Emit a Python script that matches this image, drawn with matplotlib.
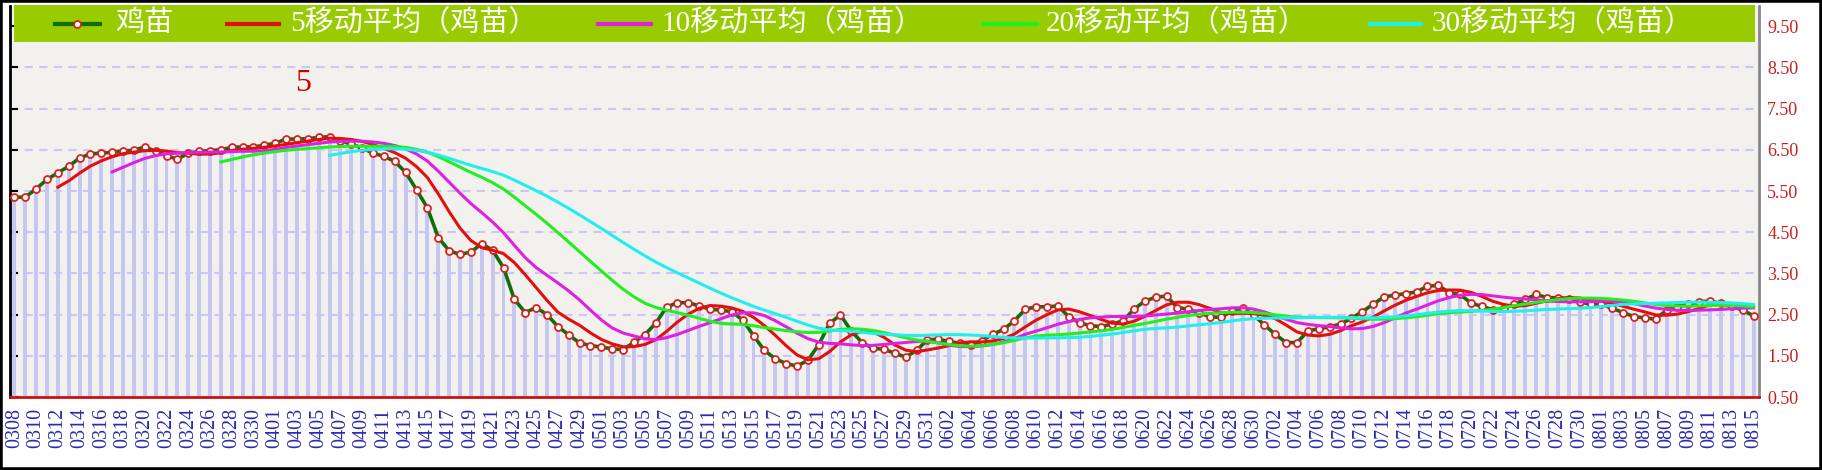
import matplotlib
matplotlib.use("Agg")
import matplotlib.pyplot as plt
from matplotlib.patches import Rectangle
from matplotlib.lines import Line2D
import numpy as np
import pandas as pd

plt.rcParams['font.family'] = ['Liberation Serif', 'Noto Sans CJK SC']

# daily dates 0308 .. 0815
dates = pd.date_range("2024-03-08", "2024-08-15", freq="D")
date_labels = [d.strftime("%m%d") for d in dates]

# 鸡苗 price
chick = [
    5.35, 5.35, 5.55, 5.78, 5.94, 6.10, 6.30, 6.40, 6.42, 6.44,
    6.47, 6.49, 6.57, 6.46, 6.36, 6.27, 6.42, 6.46, 6.48, 6.50,
    6.56, 6.57, 6.57, 6.61, 6.66, 6.76, 6.76, 6.77, 6.80, 6.82,
    6.72, 6.64, 6.54, 6.42, 6.34, 6.22, 5.95, 5.53, 5.09, 4.37,
    4.05, 3.96, 4.02, 4.22, 4.06, 3.64, 2.87, 2.55, 2.67, 2.50,
    2.21, 2.01, 1.81, 1.75, 1.71, 1.67, 1.65, 1.83, 2.01, 2.29,
    2.68, 2.79, 2.79, 2.71, 2.63, 2.61, 2.57, 2.37, 1.99, 1.63,
    1.43, 1.31, 1.25, 1.39, 1.77, 2.29, 2.49, 2.10, 1.82, 1.68,
    1.66, 1.56, 1.47, 1.63, 1.89, 1.90, 1.85, 1.80, 1.76, 1.87,
    2.02, 2.14, 2.35, 2.63, 2.69, 2.69, 2.71, 2.45, 2.30, 2.23,
    2.21, 2.27, 2.35, 2.63, 2.83, 2.92, 2.95, 2.67, 2.63, 2.54,
    2.45, 2.43, 2.59, 2.65, 2.49, 2.25, 2.02, 1.82, 1.82, 2.10,
    2.16, 2.20, 2.27, 2.41, 2.57, 2.75, 2.93, 2.97, 3.01, 3.05,
    3.19, 3.21, 3.03, 2.99, 2.78, 2.70, 2.62, 2.65, 2.75, 2.87,
    2.99, 2.91, 2.91, 2.89, 2.81, 2.75, 2.75, 2.65, 2.55, 2.45,
    2.42, 2.39, 2.61, 2.69, 2.75, 2.81, 2.83, 2.77, 2.70, 2.61,
    2.47,
]

ma_windows = [5, 10, 20, 30]
ma_colors = ["#e01010", "#e020e0", "#22ee22", "#22eeee"]
series_name = "鸡苗"
y_ticks = [0.5, 1.5, 2.5, 3.5, 4.5, 5.5, 6.5, 7.5, 8.5, 9.5]

W, H = 1822, 470
fig = plt.figure(figsize=(W / 100, H / 100), dpi=100)
fig.patch.set_facecolor("white")


def fx(px):
    return px / W


def fy(py):
    return 1 - py / H


ax = fig.add_axes([fx(10), fy(397), fx(1749), (397 - 5.6) / H])
ax.set_facecolor("#f3f1ee")

x = np.arange(len(chick))
s = pd.Series(chick)

ax.bar(x, chick, width=0.36, color="#c6c6f2", zorder=1)
ax.plot(x, chick, color="#0e6e0e", lw=2.6, marker="o", markersize=5,
        markerfacecolor="white", markeredgecolor="#dd2020",
        markeredgewidth=1.3, zorder=3)
for w, c in zip(ma_windows, ma_colors):
    ax.plot(x, s.rolling(w).mean(), color=c, lw=2.2, zorder=4)

ax.set_xlim(-0.4, 160.5)
ax.set_ylim(0.5, 10.0)

ax.yaxis.tick_right()
ax.set_yticks(y_ticks)
ax.set_yticklabels([f"{v:.2f}" for v in y_ticks], color="#c81e1e", fontsize=13)
ax.tick_params(axis="y", left=True, right=False, labelleft=False, labelright=True,
               direction="in", length=6, width=1.5, color="black", pad=6)

ax.set_xticks(x[::2])
ax.set_xticklabels(date_labels[::2], rotation=90, color="#2b2bb0", fontsize=14.5)
ax.tick_params(axis="x", direction="in", length=6, width=1.5, color="#cc1111", pad=8)

ax.grid(axis="y", color="#c8c8f0", linestyle=(0, (4, 3)), linewidth=1.5, zorder=0)
ax.set_axisbelow(True)

ax.spines["top"].set_visible(False)
ax.spines["left"].set_color("black")
ax.spines["left"].set_linewidth(2)
ax.spines["bottom"].set_color("#cc1111")
ax.spines["bottom"].set_linewidth(2)
ax.spines["right"].set_color("#888888")
ax.spines["right"].set_linewidth(2)

ax.text(26.6, 8.1, "5", color="#cc0000", fontsize=23, ha="center", va="center")

# legend bar
fig.add_artist(Rectangle((fx(14), fy(42)), fx(1755 - 14), (42 - 5) / H,
                         transform=fig.transFigure, facecolor="#99cc00",
                         edgecolor="none", zorder=5))
yl = fy(23.5)
handles = [
    (55, 100, "#0e6e0e", series_name),
    (227, 279, ma_colors[0], f"{ma_windows[0]}移动平均（{series_name}）"),
    (598, 651, ma_colors[1], f"{ma_windows[1]}移动平均（{series_name}）"),
    (983, 1037, ma_colors[2], f"{ma_windows[2]}移动平均（{series_name}）"),
    (1370, 1421, ma_colors[3], f"{ma_windows[3]}移动平均（{series_name}）"),
]
text_x = [115, 290, 661, 1046, 1432]
for (x0, x1, c, lab), tx in zip(handles, text_x):
    fig.add_artist(Line2D([fx(x0), fx(x1)], [yl, yl], transform=fig.transFigure,
                          color=c, lw=3, zorder=6))
    fig.text(fx(tx), yl, lab, color="white", fontsize=21, va="center",
             ha="left", zorder=7)
fig.add_artist(Line2D([fx(77)], [yl], transform=fig.transFigure, marker="o",
                      markersize=5, markerfacecolor="white",
                      markeredgecolor="#dd2020", markeredgewidth=1.3, zorder=7))

# outer frame
fig.add_artist(Rectangle((0, 0), 1, 1, transform=fig.transFigure, fill=False,
                         edgecolor="black", lw=4, zorder=10))

fig.savefig("out.png", dpi=100)
